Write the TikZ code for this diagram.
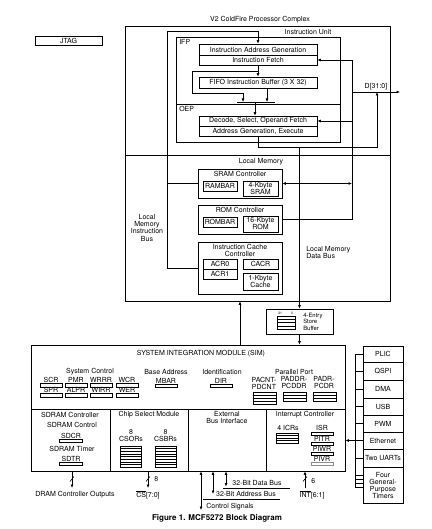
\documentclass[tikz,border=0pt]{standalone}
\usepackage{fontspec}
\setmainfont{TeX Gyre Heros}
\usetikzlibrary{arrows.meta,calc,fit}
\newcommand{\lab}{\fontsize{7}{7}\selectfont}
\newcommand{\tinylab}{\fontsize{5.9}{6.4}\selectfont}
\newcommand{\microlab}{\fontsize{3.4}{4}\selectfont}
\tikzset{
  txt/.style={font=\lab,inner sep=0pt,align=center},
  frame/.style={draw,inner sep=0pt,fit={#1}},
  stackbox/.style={draw,inner sep=0pt,fit={#1}},
  regbar/.style={draw,inner sep=0pt,minimum width=22pt,minimum height=3.5pt},
  reglab/.style={font=\lab,inner sep=0.4pt},
  flow/.style={-{Latex[length=3.5pt,width=2.8pt]}},
  bidir/.style={{Latex[length=3.5pt,width=2.8pt]}-{Latex[length=3.5pt,width=2.8pt]}}
}
% horizontal rules inside a register stack
\newcommand{\stacklines}[2]{%
  \foreach \k in {1,...,#2}{%
    \draw ($(#1.north west)!{\k/(#2+1)}!(#1.south west)$) --
          ($(#1.north east)!{\k/(#2+1)}!(#1.south east)$);}}

\begin{document}
\begin{tikzpicture}[x=1pt,y=-1pt,line width=0.6pt]
  \useasboundingbox (0,0) rectangle (431,529);

  % processor complex
  \node[txt] (cpxtitle) at (260,20) {V2 ColdFire Processor Complex};
  \node[frame={(35,36)(102,45)},label={[txt]center:JTAG}] (jtag) {};
  \node[frame={(125,26)(390,301)}] (cpx) {};
  \draw (125,155) -- (390,155);

  % instruction unit
  \node[txt] (iutitle) at (308,32) {Instruction Unit};
  \node[frame={(176,37)(340,142)}] (iu) {};
  \draw (176,104) -- (340,104);
  \node[txt,anchor=west] (ifp) at (179,42) {IFP};
  \node[txt,anchor=west] (oep) at (179,109) {OEP};
  \node[frame={(199,44)(317,55)},
    label={[txt]center:Instruction Address Generation}] (iag) {};
  \node[frame={(199,55)(317,65)},label={[txt]center:Instruction Fetch}] (ifetch) {};
  \node[frame={(199,77)(317,88)},
    label={[txt]center:FIFO Instruction Buffer (3 X 32)}] (fifo) {};
  \node[frame={(199,116)(317,126)},
    label={[txt]center:{Decode, Select, Operand Fetch}}] (dsof) {};
  \node[frame={(199,126)(317,136)},
    label={[txt]center:{Address Generation, Execute}}] (agex) {};

  \coordinate (mrgL) at (237,102);
  \coordinate (mrgR) at (275,102);
  \coordinate (mrgout) at (255,102);
  \coordinate (tap) at (258,71);
  \draw (mrgL) -- (mrgR);
  \draw[flow] (ifetch) -- (fifo);
  \draw[flow] (tap) -| (192,93) -| (243,102);
  \draw[flow] ([xshift=9pt]fifo.south) -- ([xshift=9pt]fifo.south |- mrgL);
  \draw[flow] (mrgout) -- (mrgout |- dsof.north);

  % local memory
  \node[txt] (lmtitle) at (261,162) {Local Memory};
  \node[frame={(198,169)(282,198)}] (sramc) {};
  \node[txt] (sramt) at (240,174) {SRAM Controller};
  \node[frame={(203,181)(237,191)},label={[txt]center:RAMBAR}] (rambar) {};
  \node[frame={(243,181)(278,196)},label={[txt]center:4-Kbyte\\SRAM}] (sram) {};
  \node[frame={(198,205)(282,234)}] (romc) {};
  \node[txt] (romt) at (240,210) {ROM Controller};
  \node[frame={(203,217)(237,227)},label={[txt]center:ROMBAR}] (rombar) {};
  \node[frame={(243,216)(278,232)},label={[txt]center:16-Kbyte\\ROM}] (rom) {};
  \node[frame={(198,242)(282,294)}] (icc) {};
  \node[txt] (icct) at (240,250.5) {Instruction Cache\\Controller};
  \node[frame={(203,259)(237,269)},label={[txt]center:ACR0}] (acr0) {};
  \node[frame={(203,269)(237,279)},label={[txt]center:ACR1}] (acr1) {};
  \node[frame={(243,259)(278,269)},label={[txt]center:CACR}] (cacr) {};
  \node[frame={(243,273)(278,290)},label={[txt]center:1-Kbyte\\Cache}] (cache) {};
  \node[txt] (lmib) at (147,228) {Local\\Memory\\Instruction\\Bus};
  \node[txt,anchor=west,align=left] (lmdb) at (306,252.5) {Local Memory\\Data Bus};

  % instruction bus
  \coordinate (ibtop) at (167,31);
  \draw[flow] (icc.west) -| (ibtop) -| (iag.north);
  \draw (sramc.west) -- (sramc.west -| ibtop);

  % data bus
  \coordinate (dx) at (352,92);
  \coordinate (dout) at (400,92);
  \coordinate (wb) at (377,147);
  \draw (ifetch.east -| dx) -- (romc.east -| dx);
  \draw[flow] (ifetch.east -| dx) -- (ifetch.east);
  \draw[flow] (dsof.east -| dx) -- (dsof.east);
  \draw[flow] (dx) -- (dout) node[txt,midway,above=2pt] {D[31:0]};
  \draw[bidir] (sramc.east) -- (sramc.east -| dx);
  \draw (romc.east) -- (romc.east -| dx);
  \draw[flow] (agex.south) |- (wb) -- (wb |- dx);

  % store buffer
  \node[frame={(266,309)(333,334)}] (sb) {};
  \node[stackbox={(277,316)(295,329)}] (sbregs) {};
  \stacklines{sbregs}{3}
  \node[inner sep=0pt,font=\microlab] (sbhi) at (280,313.3) {31};
  \node[inner sep=0pt,font=\microlab] (sblo) at (292,313.3) {0};
  \node[txt,anchor=west,align=left,font=\tinylab] (sbt) at (303,321.5)
    {4-Entry\\Store\\Buffer};
  \draw[flow] (sb.north |- wb) -- (sb.north);

  % system integration module
  \node[frame={(31,345)(345,471)}] (sim) {};
  \coordinate (simup) at (240,0);
  \draw[flow] (sb.south) -- (sb.south |- sim.north);
  \draw[flow] (sim.north -| simup) -- (cpx.south -| simup);
  \draw (31,409) -- (345,409);
  \foreach \xx in {110,188,266}
    \draw (\xx,409) -- (\xx,471);
  \node[txt] (simt) at (201,353.5) {SYSTEM INTEGRATION MODULE (SIM)};
  \node[txt] (sysc) at (90,372) {System Control};
  \node[txt] (basea) at (166,372) {Base Address};
  \node[txt] (ident) at (222,372) {Identification};
  \node[txt] (ppt) at (294,372) {Parallel Port};
  \foreach \nm/\cx/\ra/\rb in {scr/51/SCR/SPR,pmr/76/PMR/ALPR,
      wrrr/101/WRRR/WIRR,wcr/127/WCR/WER}{
    \node[regbar,label={[reglab]above:\ra}] (\nm a) at (\cx,385.3) {};
    \node[regbar,label={[reglab]above:\rb}] (\nm b) at (\cx,395.3) {};}
  \node[regbar,label={[reglab]above:MBAR}] (mbar) at (166,386) {};
  \node[regbar,label={[reglab]above:DIR}] (dir) at (221,386) {};
  \node[txt] (pacntt) at (264,383) {PACNT-\\PDCNT};
  \node[txt] (paddrt) at (294,383) {PADDR-\\PCDDR};
  \node[txt] (padrt) at (324,383) {PADR-\\PCDR};
  \node[stackbox={(253,392)(276,404)}] (pacnt) {};
  \node[stackbox={(283,392)(306,401)}] (paddr) {};
  \node[stackbox={(313,392)(336,401)}] (padr) {};
  \stacklines{pacnt}{3}
  \stacklines{paddr}{2}
  \stacklines{padr}{2}

  % lower SIM sections
  \node[txt] (sdramt) at (70,414.5) {SDRAM Controller};
  \node[txt] (sdcont) at (72,425) {SDRAM Control};
  \node[regbar,minimum width=23pt,label={[reglab]above:SDCR}] (sdcr) at (71,441) {};
  \node[txt] (sdtim) at (72,449) {SDRAM Timer};
  \node[regbar,minimum width=23pt,label={[reglab]above:SDTR}] (sdtr) at (71,464) {};
  \node[txt] (csmt) at (149,414.5) {Chip Select Module};
  \node[txt] (csort) at (131,436) {8\\CSORs};
  \node[txt] (csbrt) at (165.5,436) {8\\CSBRs};
  \node[stackbox={(120.5,446)(141.5,467)}] (csors) {};
  \node[stackbox={(155,446)(176,467)}] (csbrs) {};
  \stacklines{csors}{7}
  \stacklines{csbrs}{7}
  \node[txt] (ebit) at (227,417) {External\\Bus Interface};
  \node[txt] (intct) at (305,414.5) {Interrupt Controller};
  \node[txt] (icrt) at (288,428) {4 ICRs};
  \node[stackbox={(276,433)(298,443)}] (icrs) {};
  \stacklines{icrs}{3}
  \node[regbar,label={[reglab]above:ISR}] (isr) at (322,433.8) {};
  \node[regbar,label={[reglab]above:PITR}] (pitr) at (322,443.8) {};
  \node[regbar,label={[reglab]above:PIWR}] (piwr) at (322,453.8) {};
  \node[regbar,draw=black!45,label={[reglab]above:PIVR}] (pivr) at (322,463.8) {};

  % peripherals
  \node[frame={(363,346)(403,362)},label={[txt]center:PLIC}] (plic) {};
  \node[frame={(363,362)(403,380)},label={[txt]center:QSPI}] (qspi) {};
  \node[frame={(363,380)(403,398)},label={[txt]center:DMA}] (dma) {};
  \node[frame={(363,398)(403,415)},label={[txt]center:USB}] (usb) {};
  \node[frame={(363,415)(403,432)},label={[txt]center:PWM}] (pwm) {};
  \node[frame={(363,432)(403,449)},label={[txt]center:Ethernet}] (eth) {};
  \node[frame={(363,449)(403,467)},label={[txt]center:Two UARTs}] (uart) {};
  \node[frame={(363,467)(403,503)},
    label={[txt]center:Four\\General-\\Purpose\\Timers}] (gpt) {};
  \coordinate (pbus) at (355,487);
  \draw (plic.west) -| (pbus);
  \foreach \p in {qspi,dma,usb,pwm,eth,uart}
    \draw (\p.west) -- (\p.west -| pbus);
  \foreach \yy in {475,479,483,487}
    \draw (363,\yy) -- (pbus |- 0,\yy);
  \draw[flow] (eth.west -| pbus) -- (sim.east |- eth.west);

  % external signals
  \coordinate (dram) at (72,488);
  \coordinate (csout) at (148,488);
  \coordinate (ctl) at (201,510);
  \coordinate (adr) at (213,494);
  \coordinate (dat) at (226,486.5);
  \coordinate (intin) at (305,488);
  \draw[flow] (sim.south -| dram) -- (dram);
  \draw (70,481.5) -- (74,476.5);
  \node[txt] (dramt) at (75,495) {DRAM Controller Outputs};
  \draw[flow] (sim.south -| csout) -- (csout);
  \draw (146,481.5) -- (150,476.5);
  \node[txt,anchor=west] (cswidth) at (154,479) {8};
  \node[txt] (cst) at (148,495) {$\overline{\mbox{CS}}$[7:0]};
  \draw[bidir] (sim.south -| ctl) -- (ctl);
  \draw[bidir] (sim.south -| adr) -- (adr);
  \draw[bidir] (sim.south -| dat) -- (dat);
  \draw (203,499) -- (280,499);
  \draw (223,488) -- (290,488);
  \node[txt] (datt) at (257,483) {32-Bit Data Bus};
  \node[txt] (adrt) at (246,494) {32-Bit Address Bus};
  \node[txt,anchor=west] (ctlt) at (206,507) {Control Signals};
  \draw[flow] (intin) -- (sim.south -| intin);
  \draw (303,481.5) -- (307,476.5);
  \node[txt,anchor=west] (intwidth) at (311,481) {6};
  \node[txt] (intt) at (312,495) {$\overline{\mbox{INT}}$[6:1]};

  \node[font=\fontsize{8}{9}\selectfont\bfseries,inner sep=0pt] (caption)
    at (217,518) {Figure 1. MCF5272 Block Diagram};
\end{tikzpicture}
\end{document}
